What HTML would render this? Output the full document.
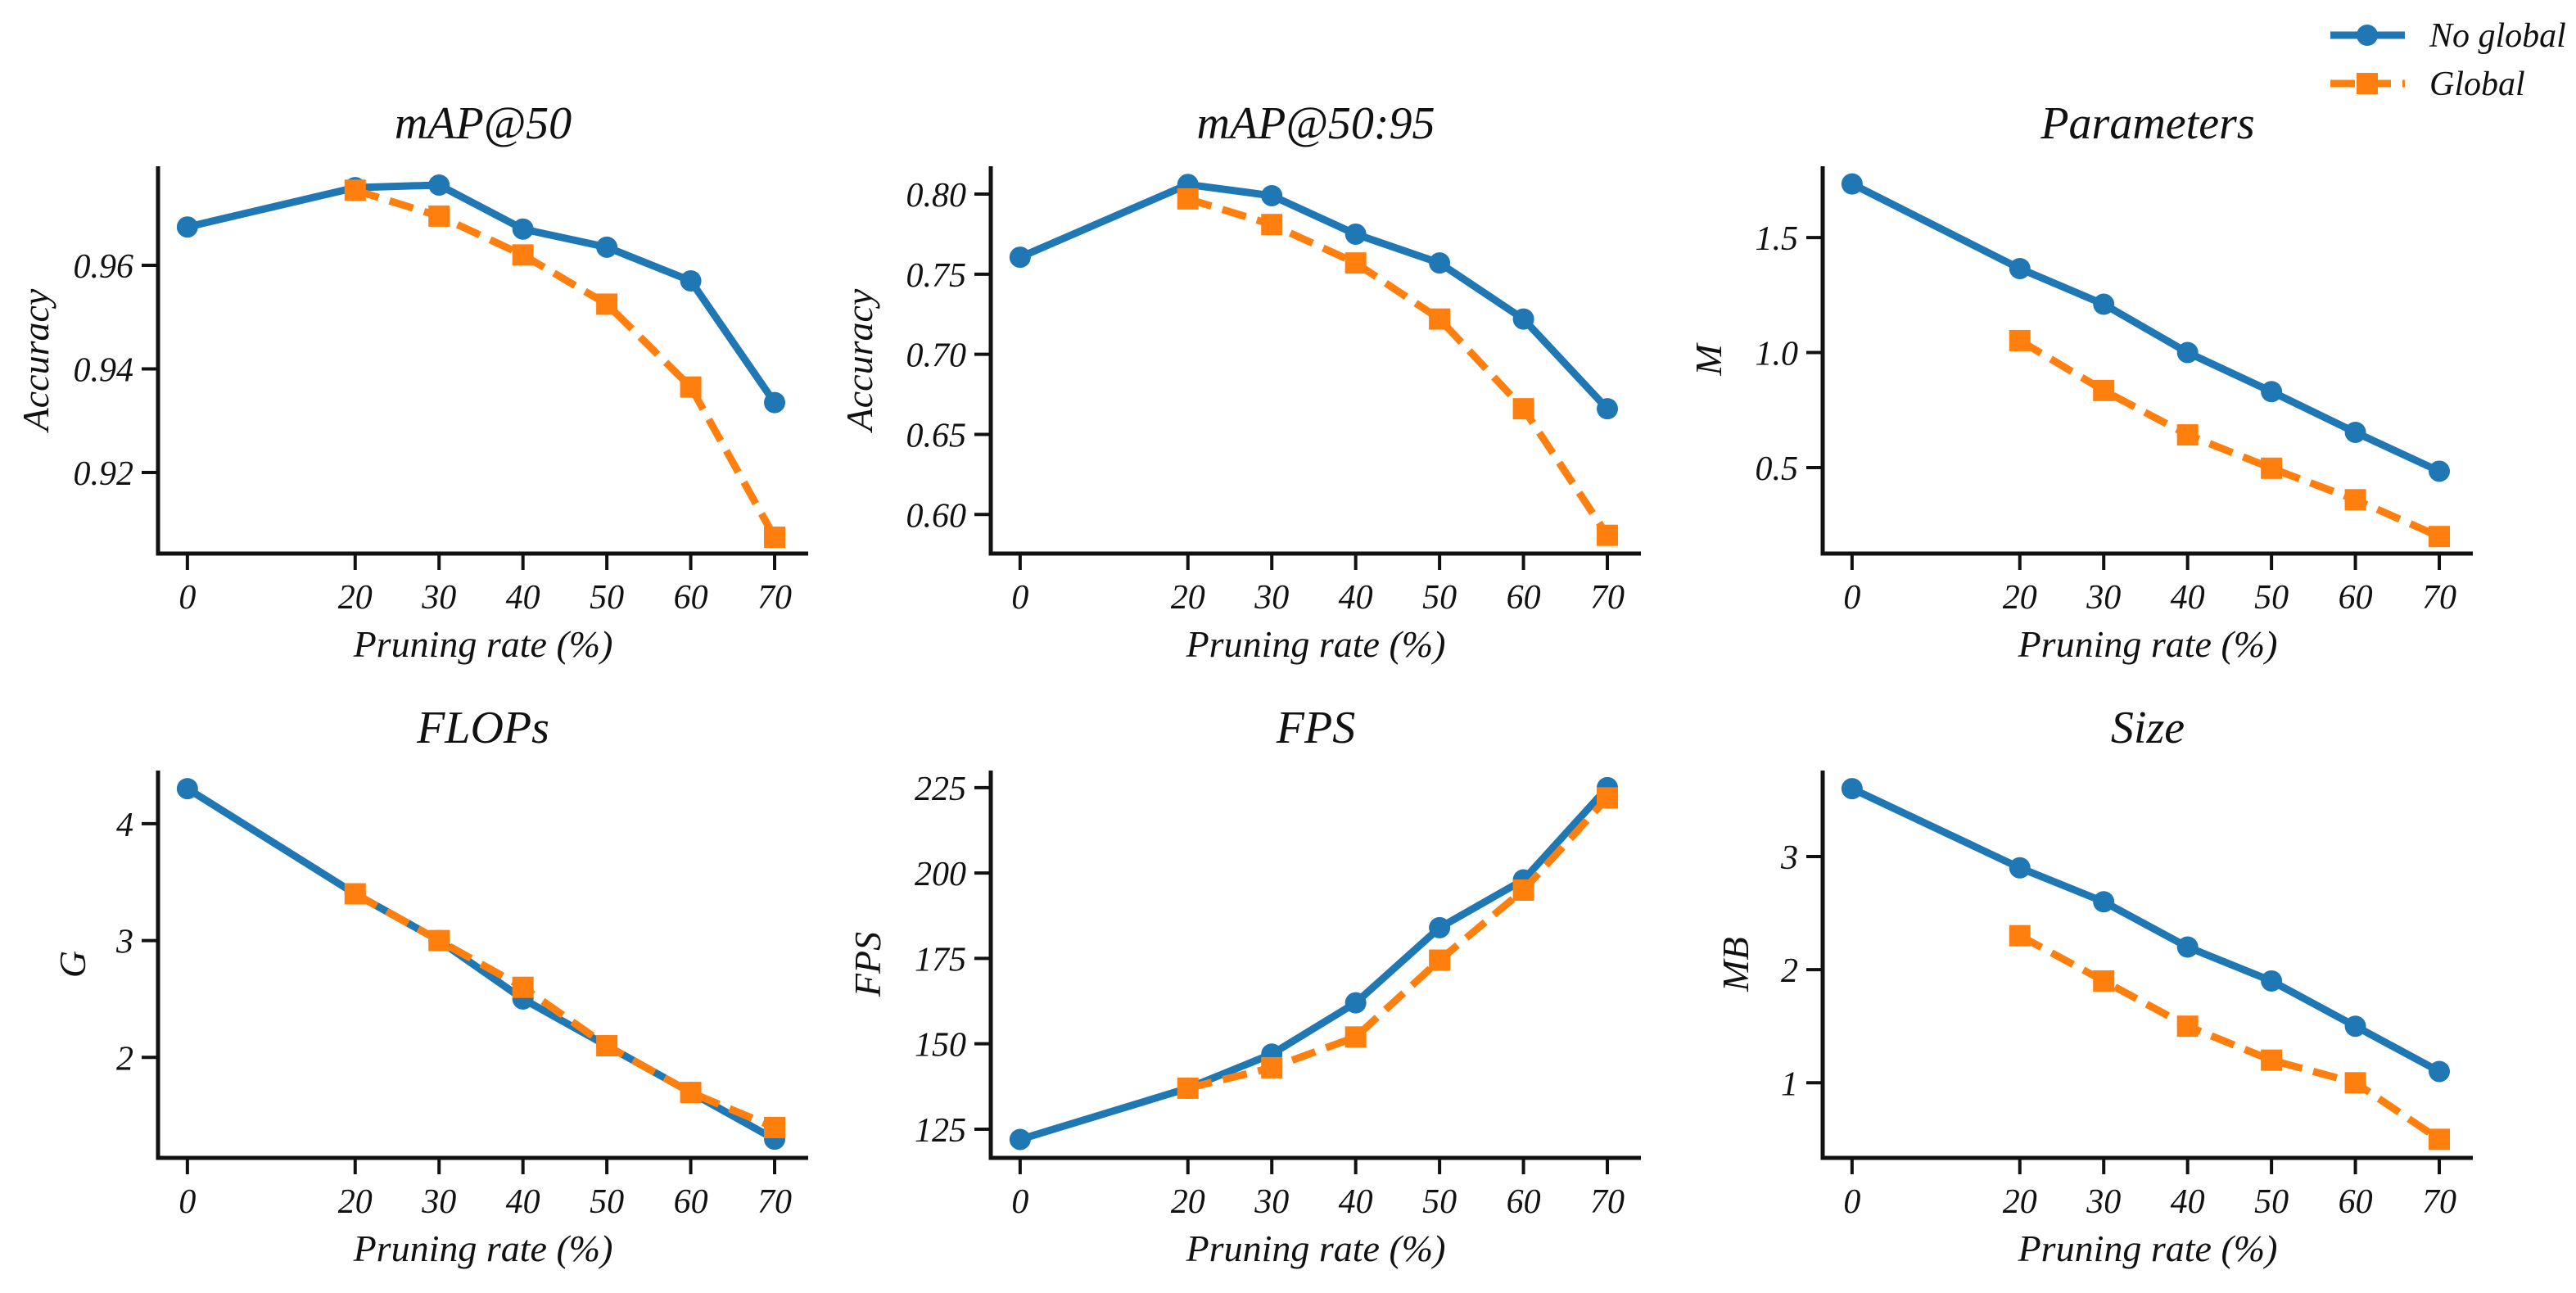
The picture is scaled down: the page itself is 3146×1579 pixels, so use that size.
<!DOCTYPE html>
<html><head><meta charset="utf-8"><style>
html,body{margin:0;padding:0;background:#fff;}
svg{display:block;}
text{font-family:"Liberation Serif",serif;font-style:italic;fill:#111;}
</style></head><body>
<svg id="fig" width="3146" height="1579" viewBox="0 0 3146 1579" xmlns="http://www.w3.org/2000/svg">
<g>
<line x1="2846" y1="43" x2="2937" y2="43" stroke="#1f77b4" stroke-width="9"/>
<circle cx="2891" cy="43" r="13" fill="#1f77b4"/>
<text x="2967" y="57" font-size="42">No global</text>
<line x1="2846" y1="102" x2="2937" y2="102" stroke="#ff7f0e" stroke-width="9" stroke-dasharray="30,14"/>
<rect x="2878" y="89" width="26" height="26" fill="#ff7f0e"/>
<text x="2967" y="116" font-size="42">Global</text>
</g>
</svg>
<script>
const categories = [0, 20, 30, 40, 50, 60, 70];
const map50NoGlobal = [0.9674, 0.975, 0.9755, 0.967, 0.9635, 0.957, 0.9335];
const map50Global = [null, 0.9745, 0.9695, 0.962, 0.9525, 0.9365, 0.9075];
const map5095NoGlobal = [0.7606, 0.806, 0.799, 0.775, 0.757, 0.722, 0.666];
const map5095Global = [null, 0.797, 0.781, 0.757, 0.722, 0.666, 0.587];
const paramsNoGlobal = [1.733, 1.365, 1.21, 1.0, 0.83, 0.653, 0.484];
const paramsGlobal = [null, 1.052, 0.835, 0.642, 0.497, 0.36, 0.2];
const flopsNoGlobal = [4.3, 3.4, 3.0, 2.5, 2.1, 1.7, 1.3];
const flopsGlobal = [null, 3.4, 3.0, 2.6, 2.1, 1.7, 1.4];
const fpsNoGlobal = [122, 137, 147, 162, 184, 198, 225];
const fpsGlobal = [null, 137, 143, 152, 174.5, 195, 222];
const sizeNoGlobal = [3.6, 2.9, 2.6, 2.2, 1.9, 1.5, 1.1];
const sizeGlobal = [null, 2.3, 1.9, 1.5, 1.2, 1.0, 0.5];
const map50Ticks = ["0.92", "0.94", "0.96"];
const map5095Ticks = ["0.60", "0.65", "0.70", "0.75", "0.80"];
const paramsTicks = ["0.5", "1.0", "1.5"];
const flopsTicks = ["2", "3", "4"];
const fpsTicks = ["125", "150", "175", "200", "225"];
const sizeTicks = ["1", "2", "3"];

const NS = "http://www.w3.org/2000/svg";
const svg = document.getElementById('fig');
function mk(tag, attrs, parent) {
  const e = document.createElementNS(NS, tag);
  for (const k in attrs) e.setAttribute(k, attrs[k]);
  parent.appendChild(e);
  return e;
}
const panels = [
  {name:'map50', title:'mAP@50', ylabel:'Accuracy', left:193, top:203, ymin:0.90435, ymax:0.97913, ticks:map50Ticks, a:map50NoGlobal, b:map50Global, ylx:-148},
  {name:'map5095', title:'mAP@50:95', ylabel:'Accuracy', left:1210, top:203, ymin:0.5756, ymax:0.8174, ticks:map5095Ticks, a:map5095NoGlobal, b:map5095Global, ylx:-159},
  {name:'parameters', title:'Parameters', ylabel:'M', left:2226, top:203, ymin:0.126, ymax:1.81, ticks:paramsTicks, a:paramsNoGlobal, b:paramsGlobal, ylx:-138},
  {name:'flops', title:'FLOPs', ylabel:'G', left:193, top:941, ymin:1.14, ymax:4.455, ticks:flopsTicks, a:flopsNoGlobal, b:flopsGlobal, ylx:-103},
  {name:'fps', title:'FPS', ylabel:'FPS', left:1210, top:941, ymin:116.6, ymax:230, ticks:fpsTicks, a:fpsNoGlobal, b:fpsGlobal, ylx:-149},
  {name:'size', title:'Size', ylabel:'MB', left:2226, top:941, ymin:0.336, ymax:3.76, ticks:sizeTicks, a:sizeNoGlobal, b:sizeGlobal, ylx:-105}
];
const W = 794, H = 473, XMIN = -3.5, XMAX = 74;
panels.forEach(p => {
  const g = mk('g', {}, svg);
  
  
  const xs = v => p.left + (v - XMIN) / (XMAX - XMIN) * W;
  const ys = v => p.top + H - (v - p.ymin) / (p.ymax - p.ymin) * H;
  const bottom = p.top + H;
  const t = mk('text', {x: p.left + W/2, y: p.top - 34, 'font-size': 56, 'text-anchor': 'middle'}, g);
  
  
  t.textContent = p.title;
  const sp = mk('path', {d: `M${p.left},${p.top} V${bottom} H${p.left+W}`, fill:'none', stroke:'#111', 'stroke-width':5}, g);
  
  
  categories.forEach(c => {
    const x = xs(c);
    mk('line', {x1:x, y1:bottom, x2:x, y2:bottom+20, stroke:'#111', 'stroke-width':4}, g);
    const tl = mk('text', {x:x, y:bottom+67, 'font-size':42, 'text-anchor':'middle'}, g);
    
    
    tl.textContent = String(c);
  });
  const xl = mk('text', {x: p.left + W/2, y: bottom + 126, 'font-size': 46, 'text-anchor':'middle'}, g);
  
  
  xl.textContent = 'Pruning rate (%)';
  p.ticks.forEach(s => {
    const y = ys(parseFloat(s));
    mk('line', {x1:p.left, y1:y, x2:p.left-20, y2:y, stroke:'#111', 'stroke-width':4}, g);
    const tl = mk('text', {x:p.left-30, y:y+15, 'font-size':42, 'text-anchor':'end'}, g);
    
    
    tl.textContent = s;
  });
  const yl = mk('text', {x:0, y:0, 'font-size':46, 'text-anchor':'middle', transform:`translate(${p.left+p.ylx+14},${p.top+H/2}) rotate(-90)`}, g);
  
  
  yl.textContent = p.ylabel;
  function series(vals, color, dashed, square, nm) {
    const pts = [];
    vals.forEach((v, i) => { if (v !== null) pts.push([xs(categories[i]), ys(v)]); });
    const ln = mk('polyline', {points: pts.map(q => q.join(',')).join(' '), fill:'none', stroke:color, 'stroke-width':9, 'stroke-linejoin':'round'}, g);
    if (dashed) ln.setAttribute('stroke-dasharray', '30,14');
    
    
    pts.forEach(q => {
      let m;
      if (square) m = mk('rect', {x:q[0]-13, y:q[1]-13, width:26, height:26, fill:color}, g);
      else m = mk('circle', {cx:q[0], cy:q[1], r:13, fill:color}, g);
      
      
    });
  }
  series(p.a, '#1f77b4', false, false, 'no-global');
  series(p.b, '#ff7f0e', true, true, 'global');
});
</script>
</body></html>
